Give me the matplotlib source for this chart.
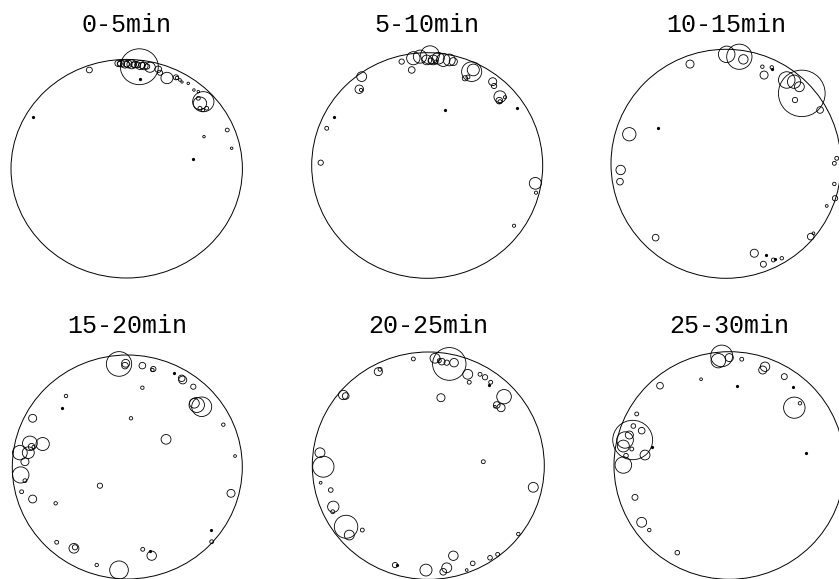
import matplotlib.pyplot as plt
from matplotlib.patches import Circle

# positions in units of the arena radius (arena radius = 100), y up
titles = ['0-5min', '5-10min', '10-15min', '15-20min', '20-25min', '25-30min']

# ---- 0-5 min
p1_x = [10.9, -32.3, -7.3, -4.9, -1.5, 1.1, 4.3, 7.2, 11.5, 15.0, 20.1, 27.3, 28.8,
        34.8, 42.6, 43.5, 46.0, 47.8, 53.2, 58.1, 61.9, 66.2, 63.3, 61.9, 63.3,
        69.1, 65.9, 86.9, 66.8, 90.7, -6.0, 0.0, 5.8, 9.5, 13.2, 17.5]
p1_y = [93.3, 90.3, 96.4, 96.1, 95.8, 95.8, 95.5, 95.3, 94.9, 94.0, 92.8, 91.0, 87.8,
        83.0, 83.6, 83.0, 81.2, 79.3, 78.1, 72.0, 70.5, 61.3, 59.8, 64.4, 55.3,
        55.3, 53.7, 35.4, 29.3, 18.7, 96.0, 95.6, 95.2, 95.0, 94.5, 93.5]
p1_r = [16.4, 2.6, 2.9, 3.0, 3.7, 3.5, 4.1, 3.0, 4.1, 3.5, 4.6, 2.9, 2.3,
        5.2, 2.3, 1.5, 1.2, 1.0, 1.1, 1.1, 1.1, 9.2, 5.8, 1.7, 1.7,
        1.7, 1.5, 1.7, 1.1, 1.1, 2.2, 2.5, 2.4, 2.6, 2.8, 2.4]
p1_dx = [11.5, -80.7, 57.5]
p1_dy = [81.8, 47.3, 8.6]

# ---- 5-10 min
p2_x = [-12.0, -6.2, 2.4, -0.4, 5.3, 9.6, 13.9, 19.1, 22.6, 3.3, 7.6, -13.4, -22.1,
        38.5, 39.9, 32.7, 35.3, 56.7, 57.9, 63.0, 62.4, 63.0, 67.4, -56.7, -58.8,
        -57.3, -87.0, -92.2, 93.6, 94.2, 75.2]
p2_y = [95.1, 96.5, 98.0, 93.6, 93.6, 95.1, 93.6, 93.6, 92.1, 92.7, 91.8, 84.7, 92.1,
        83.2, 84.7, 77.3, 78.5, 74.3, 70.5, 61.0, 57.5, 56.6, 60.5, 78.8, 67.6,
        67.0, 33.0, 2.5, -15.8, -24.1, -53.4]
p2_r = [5.8, 5.8, 8.1, 4.3, 4.3, 5.2, 5.8, 5.2, 3.5, 2.6, 1.7, 2.9, 2.3,
        8.7, 5.2, 2.3, 1.7, 3.5, 2.3, 5.2, 2.9, 1.7, 1.4, 4.3, 3.7,
        1.4, 1.7, 2.3, 5.2, 1.4, 1.4]
p2_dx = [15.4, 77.5, -80.5]
p2_dy = [49.2, 50.7, 43.3]

# ---- 10-15 min
p3_x = [0.6, 11.6, 15.1, -31.3, 31.6, 39.8, 33.1, 65.9, 52.8, 59.2, 63.8, 60.0, 81.8,
        -84.1, -91.6, -92.2, 96.3, 94.2, 94.2, 94.8, 87.6, 76.0, 73.7, -61.2,
        24.6, 32.5, 41.2, 48.5]
p3_y = [95.6, 93.5, 91.2, 87.1, 84.8, 84.2, 77.5, 61.5, 73.2, 71.7, 67.3, 55.7, 47.0,
        25.8, -5.4, -15.6, 4.8, 0.4, -17.6, -30.1, -36.8, -60.7, -63.6, -64.5,
        -78.1, -87.7, -84.0, -82.5]
p3_r = [7.2, 11.0, 4.1, 3.5, 1.5, 1.5, 3.5, 20.3, 7.2, 5.8, 4.3, 2.3, 2.9,
        5.8, 4.1, 2.9, 1.7, 1.7, 1.5, 2.3, 1.2, 1.2, 2.9, 2.9,
        3.5, 2.6, 1.7, 1.5]
p3_dx = [-58.9, 34.5, 42.6, 39.8]
p3_dy = [31.5, -79.6, -83.4, 83.0]

# ---- 15-20 min
p4_x = [-7.2, -1.4, -2.0, 13.1, 22.6, 21.8, 48.2, 47.3, 57.4, 13.1, -53.3, 60.4, 64.7,
        58.3, 3.2, -82.3, 83.5, 33.7, -84.7, -73.6, -83.2, -81.6, -93.4, -86.1,
        -89.0, 93.7, -92.7, -89.0, -23.8, -91.9, -82.3, 90.2, -62.3, 73.4, -61.4,
        -46.4, -45.5, 13.4, 21.2, -26.6, -7.2]
p4_y = [92.0, 92.6, 90.5, 90.5, 87.5, 86.6, 77.7, 79.2, 71.7, 70.8, 63.4, 55.4, 53.8,
        56.9, 43.5, 43.5, 37.8, 24.7, 21.2, 20.5, 18.1, 17.9, 12.8, 12.8,
        4.7, 9.8, -7.1, -12.2, -16.7, -22.1, -28.6, -23.5, -32.4, -66.7, -67.2,
        -72.6, -71.7, -73.5, -79.2, -87.5, -92.0]
p4_r = [11.0, 3.5, 2.9, 2.9, 2.3, 1.5, 3.5, 2.9, 2.3, 1.5, 1.5, 6.7, 8.7,
        4.3, 1.5, 3.5, 1.5, 4.3, 6.4, 5.8, 2.9, 1.3, 6.4, 5.2,
        3.5, 1.2, 7.2, 1.7, 2.3, 1.7, 3.5, 3.5, 1.5, 1.7, 1.7,
        4.3, 2.3, 1.7, 4.1, 1.5, 8.1]
p4_dx = [40.6, -57.1, 72.6, 19.7]
p4_dy = [83.7, 52.4, -56.3, -74.7]

# ---- 20-25 min
p5_x = [18.1, 5.8, 11.6, 15.9, 22.2, 9.5, -12.9, -43.1, -41.6, 34.0, 35.3, 44.6, 48.9,
        53.8, -73.3, -71.2, 10.9, 65.3, 59.0, 62.7, 57.5, -93.4, -90.5, 47.4,
        -92.8, -84.1, 90.5, -81.9, -82.4, -70.9, -68.1, -56.9, 77.6, 21.6, 53.2,
        59.8, 38.3, -28.7, -2.0, 15.9, 12.9, 33.1]
p5_y = [89.5, 94.5, 91.5, 90.6, 90.6, 92.4, 93.9, 82.7, 84.8, 80.4, 73.4, 80.4, 77.8,
        73.4, 62.2, 61.3, 59.8, 60.7, 53.4, 51.0, 51.9, 11.4, -0.9, 3.5,
        -15.0, -21.4, -19.0, -36.1, -40.5, -53.7, -61.0, -56.6, -60.1, -79.2, -81.0,
        -78.0, -85.9, -87.4, -91.8, -89.8, -93.3, -91.8]
p5_r = [14.4, 4.3, 2.9, 2.3, 3.7, 1.7, 1.7, 3.5, 1.7, 4.3, 1.7, 1.7, 2.3,
        1.7, 4.1, 2.9, 3.5, 6.3, 2.9, 3.5, 1.1, 4.3, 9.2, 1.7,
        1.2, 2.0, 4.3, 4.9, 1.7, 10.1, 4.3, 1.7, 1.5, 4.1, 2.0,
        1.7, 2.0, 2.3, 5.2, 4.3, 2.9, 1.2]
p5_dx = [-27.0, 52.0]
p5_dy = [-87.4, 71.0]

# ---- 25-30 min
p6_x = [-6.6, -9.5, 0.0, 10.8, 31.0, 29.0, -60.1, -24.5, 47.7, 56.4, 61.3, -80.3,
        -83.8, -83.2, -76.0, -90.4, -86.7, -91.9, -84.6, -89.6, -73.1, -91.9,
        -81.8, -76.0, -69.4, -45.1]
p6_y = [96.3, 92.1, 94.8, 93.4, 86.8, 83.9, 70.1, 75.8, 78.1, 50.8, 54.7, 45.3,
        22.4, 34.7, 30.6, 22.4, 26.8, 17.1, 14.5, 8.6, 9.2, 0.4,
        -28.0, -49.9, -56.7, -76.6]
p6_r = [9.5, 6.3, 3.5, 1.7, 4.1, 3.5, 2.9, 1.2, 2.6, 9.3, 1.5, 1.7,
        17.3, 2.0, 2.9, 7.2, 3.5, 5.2, 1.7, 2.0, 4.3, 7.2,
        2.6, 4.3, 1.5, 2.0]
p6_dx = [6.4, 55.5, 66.5, -66.8]
p6_dy = [69.9, 69.3, 10.7, 16.5]

circles = [(p1_x, p1_y, p1_r), (p2_x, p2_y, p2_r), (p3_x, p3_y, p3_r),
           (p4_x, p4_y, p4_r), (p5_x, p5_y, p5_r), (p6_x, p6_y, p6_r)]
dots = [(p1_dx, p1_dy), (p2_dx, p2_dy), (p3_dx, p3_dy),
        (p4_dx, p4_dy), (p5_dx, p5_dy), (p6_dx, p6_dy)]

# arena boxes on the page, in pixels: centre x, centre y, half width, half height
W, H = 839, 579
boxes = [(126.7, 168.7, 115.7, 109.3), (427.2, 165.5, 115.5, 112.8),
         (726.0, 163.8, 115.0, 114.5), (127.3, 467.0, 115.0, 112.0),
         (428.3, 465.7, 116.0, 113.7), (729.3, 465.5, 115.3, 113.8)]
title_base = [31.7, 31.7, 31.7, 333.0, 333.0, 333.0]

fig = plt.figure(figsize=(W / 100, H / 100), dpi=100)

for i in range(6):
    cx, cy, rx, ry = boxes[i]
    ax = fig.add_axes([(cx - rx) / W, 1 - (cy + ry) / H, 2 * rx / W, 2 * ry / H])
    ax.set_xlim(-100, 100)
    ax.set_ylim(-100, 100)
    ax.axis('off')
    ax.add_patch(Circle((0, 0), 100, fill=False, lw=0.7, ec='black', clip_on=False))
    xs, ys, rs = circles[i]
    for x, y, r in zip(xs, ys, rs):
        ax.add_patch(Circle((x, y), r, fill=False, lw=0.6, ec='black', clip_on=False))
    ax.plot(dots[i][0], dots[i][1], 'o', ms=1.3, color='black', clip_on=False)
    fig.text(cx / W, 1 - title_base[i] / H, titles[i], ha='center', va='baseline',
             family='Liberation Mono', fontsize=18)

fig.savefig('out.png', dpi=100)
